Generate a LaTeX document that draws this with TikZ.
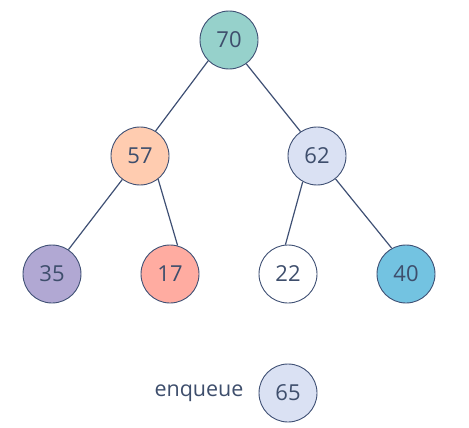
\documentclass[tikz,border=0pt]{standalone}
\usepackage{fontspec}
\setmainfont{Open Sans}
\definecolor{ink}{HTML}{3F5074}
\definecolor{txt}{HTML}{3E4E6C}
\definecolor{cA}{HTML}{96D1CB}
\definecolor{cB}{HTML}{FFCCB0}
\definecolor{cC}{HTML}{DAE1F3}
\definecolor{cD}{HTML}{B1A8D3}
\definecolor{cE}{HTML}{FFACA1}
\definecolor{cF}{HTML}{73C3E1}
\tikzset{
  heapnode/.style={circle, draw=ink, line width=0.9pt, minimum size=58pt, inner sep=0pt, text=txt, font=\fontsize{22}{26}\selectfont},
  edge/.style={draw=ink, line width=1.2pt},
  lbl/.style={text=txt, font=\fontsize{21.5}{26}\selectfont}
}
\begin{document}
\begin{tikzpicture}[x=1pt,y=-1pt]
\useasboundingbox (0,0) rectangle (469,428);
\node[heapnode, fill=cA] (n70) at (229,40) {70};
\node[heapnode, fill=cB] (n57) at (140,156) {57};
\node[heapnode, fill=cC] (n62) at (317,156) {62};
\node[heapnode, fill=cD] (n35) at (52,274) {35};
\node[heapnode, fill=cE] (n17) at (170,274) {17};
\node[heapnode, fill=white] (n22) at (288,274) {22};
\node[heapnode, fill=cF] (n40) at (406,274) {40};
\node[heapnode, fill=cC] (n65) at (288,393) {65};
\node[lbl] (enq) at (199,393) {enqueue};
\draw[edge] (n70.225) -- (n57.58);
\draw[edge] (n70.-54) -- (n62.124);
\draw[edge] (n57.233) -- (n35.56);
\draw[edge] (n57.-52) -- (n17.75);
\draw[edge] (n62.241) -- (n22.95);
\draw[edge] (n62.-51) -- (n40.119);
\end{tikzpicture}
\end{document}
